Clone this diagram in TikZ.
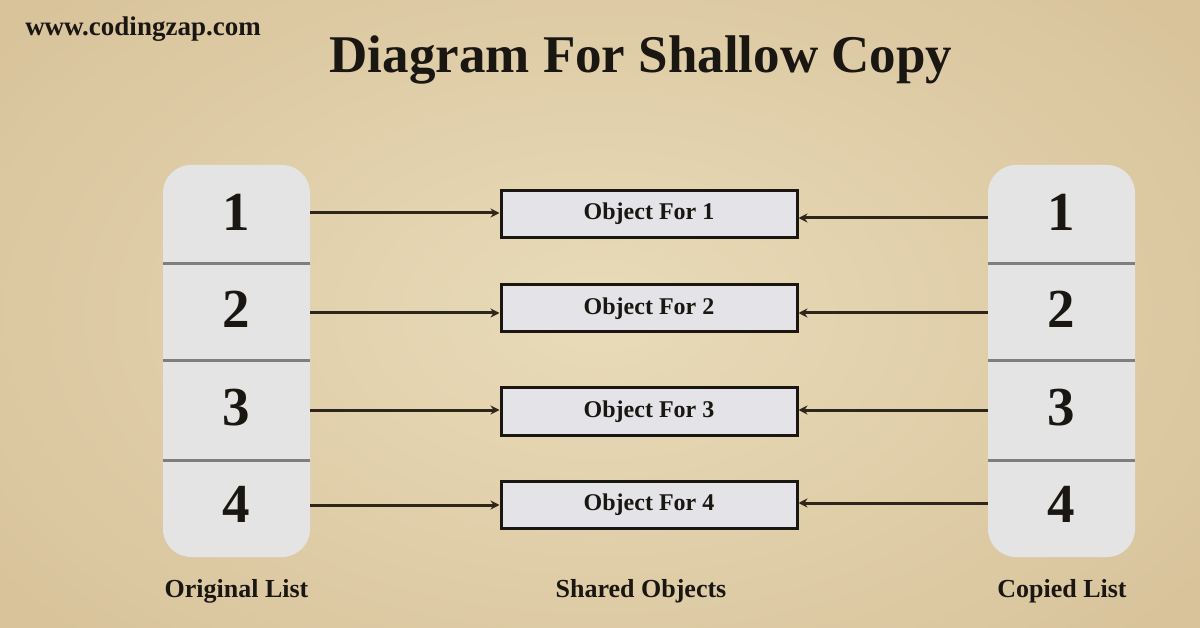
\documentclass[tikz,border=0pt]{standalone}
\usepackage{fontspec}
\setmainfont{Liberation Serif}
\usetikzlibrary{arrows.meta}
\definecolor{paperlight}{HTML}{E9DBB9}
\definecolor{paperdark}{HTML}{D8C39B}
\definecolor{listfill}{HTML}{E4E4E4}
\definecolor{divider}{HTML}{7E7E7E}
\definecolor{boxfill}{HTML}{E3E3E8}
\definecolor{ink}{HTML}{1A1712}
\definecolor{arrowink}{HTML}{2E261A}
\tikzset{
  listbg/.style={draw=none, fill=listfill, rounded corners=28pt},
  divline/.style={draw=divider, line width=3pt},
  numtxt/.style={inner sep=0pt, anchor=base, text=ink, font=\bfseries\fontsize{55}{60}\selectfont},
  objbox/.style={draw=ink, line width=3pt, fill=boxfill, minimum width=296pt, minimum height=47pt, inner sep=0pt, text=ink, font=\bfseries\fontsize{24}{28}\selectfont},
  captxt/.style={inner sep=0pt, anchor=base, text=ink, font=\bfseries\fontsize{26}{30}\selectfont},
  cellanchor/.style={inner sep=0pt, minimum width=147pt, minimum height=1pt},
  arr/.style={draw=arrowink, line width=3pt, -{Stealth[length=9pt,width=9pt]}}
}
\begin{document}
\begin{tikzpicture}[x=1pt,y=-1pt]
\useasboundingbox (0,0) rectangle (1200,628);
\shade[inner color=paperlight, outer color=paperdark] (-150,-150) rectangle (1350,778);

% header
\node[inner sep=0pt, anchor=base, text=ink, font=\bfseries\fontsize{27}{30}\selectfont] (site) at (143,36) {www.codingzap.com};
\node[inner sep=0pt, anchor=base, text=ink, font=\bfseries\fontsize{53}{60}\selectfont] (title) at (641,73) {Diagram For Shallow Copy};

% original list
\fill[listbg] (163,165) rectangle (310,557);
\draw[divline] (163,264) -- (310,264);
\draw[divline] (163,361) -- (310,361);
\draw[divline] (163,460) -- (310,460);
\node[numtxt] (L1) at (236.5,231) {1};
\node[numtxt] (L2) at (236.5,328) {2};
\node[numtxt] (L3) at (236.5,425) {3};
\node[numtxt] (L4) at (236.5,522) {4};
\node[cellanchor] (LA1) at (236.5,213) {};
\node[cellanchor] (LA2) at (236.5,313) {};
\node[cellanchor] (LA3) at (236.5,410) {};
\node[cellanchor] (LA4) at (236.5,505) {};

% copied list
\fill[listbg] (988,165) rectangle (1135,557);
\draw[divline] (988,264) -- (1135,264);
\draw[divline] (988,361) -- (1135,361);
\draw[divline] (988,460) -- (1135,460);
\node[numtxt] (R1) at (1061.5,231) {1};
\node[numtxt] (R2) at (1061.5,328) {2};
\node[numtxt] (R3) at (1061.5,425) {3};
\node[numtxt] (R4) at (1061.5,522) {4};
\node[cellanchor] (RA1) at (1061.5,218) {};
\node[cellanchor] (RA2) at (1061.5,313) {};
\node[cellanchor] (RA3) at (1061.5,410) {};
\node[cellanchor] (RA4) at (1061.5,503) {};

% shared objects
\node[objbox] (O1) at (649,214) {Object For 1};
\node[objbox] (O2) at (649,308.5) {Object For 2};
\node[objbox] (O3) at (649,411.5) {Object For 3};
\node[objbox] (O4) at (649,504.5) {Object For 4};

% connectors
\foreach \i in {1,2,3,4} {
  \draw[arr] (LA\i.east) -- (O\i.west |- LA\i.east);
  \draw[arr] (RA\i.west) -- (O\i.east |- RA\i.west);
}

% captions
\node[captxt] (capL) at (236.5,597) {Original List};
\node[captxt] (capS) at (641,597) {Shared Objects};
\node[captxt] (capR) at (1062,597) {Copied List};
\end{tikzpicture}
\end{document}
